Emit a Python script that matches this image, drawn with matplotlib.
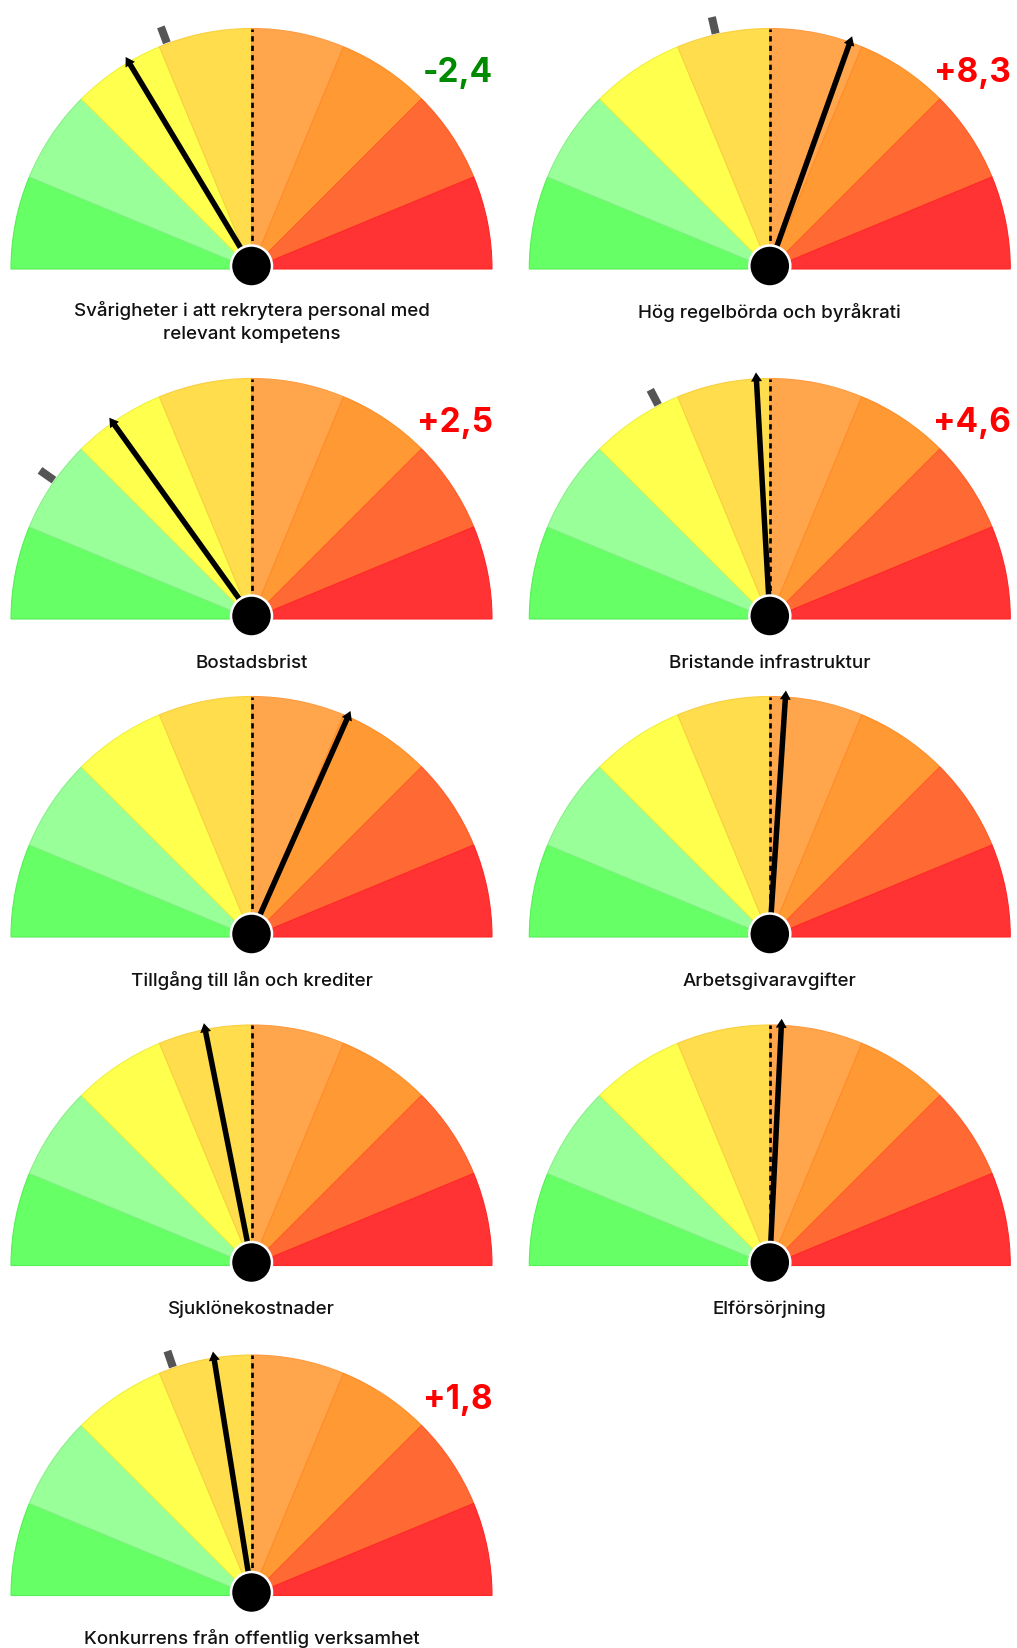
import matplotlib.pyplot as plt
from matplotlib.patches import Wedge, Circle
import numpy as np

W, H = 1017, 1648

# Gauge data (needle and previous marker on a -100..100 scale)
labels = [
    "Svårigheter i att rekrytera personal med\nrelevant kompetens",
    "Hög regelbörda och byråkrati",
    "Bostadsbrist",
    "Bristande infrastruktur",
    "Tillgång till lån och krediter",
    "Arbetsgivaravgifter",
    "Sjuklönekostnader",
    "Elförsörjning",
    "Konkurrens från offentlig verksamhet",
]
needle = [-34.5, 21.9, -39.6, -3.6, 26.6, 4.2, -12.5, 3.1, -10.1]
marker = [-22.8, -14.4, -61.0, -30.6, None, None, None, None, -21.1]
change = ["-2,4", "+8,3", "+2,5", "+4,6", None, None, None, None, "+1,8"]

zone_colors = ["#66ff66", "#99ff99", "#ffff4d", "#ffdd4d",
               "#ffa64d", "#ff9933", "#ff6933", "#ff3333"]
zone_edges = ["#55f055", "#88f088", "#f0f040", "#f8d040",
              "#ff9a40", "#ff8c28", "#ff5c28", "#ff2828"]

# layout (pixels)
col_x = [251.5, 769.8]
row_y = [269.0, 619.0, 937.0, 1265.5, 1595.5]
R = 240.5
LINE_PX = 21.5


def polar(cx, cy, value, r):
    phi = np.radians(90 - 0.9 * value)
    return cx + r * np.cos(phi), cy - r * np.sin(phi)


plt.rcParams["font.family"] = ["Inter", "DejaVu Sans"]
fig = plt.figure(figsize=(W / 100, H / 100), dpi=100)
ax = fig.add_axes([0, 0, 1, 1])
ax.set_xlim(0, W)
ax.set_ylim(H, 0)
ax.axis("off")

for i, label in enumerate(labels):
    cx = col_x[i % 2]
    cy = row_y[i // 2]
    hx, hy = cx, cy - 3

    n = len(zone_colors)
    step = 180 / n
    for k in range(n):
        ax.add_patch(Wedge((cx, cy), R, k * step - 180, (k + 1) * step - 180,
                           facecolor=zone_colors[k], edgecolor=zone_edges[k],
                           lw=0.8, zorder=1))

    ax.plot([cx, cx], [cy, cy - R], color="black", lw=1.9,
            ls=(0, (2.0, 1.6)), zorder=2)

    if marker[i] is not None:
        x0, y0 = polar(cx, cy, marker[i], R + 1)
        x1, y1 = polar(cx, cy, marker[i], R + 18)
        ax.plot([x0, x1], [y0, y1], color="#555555", lw=5.8,
                solid_capstyle="butt", zorder=2)

    tx, ty = polar(hx, hy, needle[i], 244)
    ax.arrow(hx, hy, tx - hx, ty - hy, width=5.5, head_width=11, head_length=9,
             length_includes_head=True, color="black", lw=0, zorder=3)

    ax.add_patch(Circle((hx, hy), 20.5, facecolor="black", edgecolor="white",
                        lw=1.8, zorder=4))

    # baseline alignment uses the last line, so shift multi-line labels down
    nlines = label.count("\n") + 1
    ax.text(cx, cy + 48.5 + (nlines - 1) * LINE_PX, label, ha="center",
            va="baseline", fontsize=13.5, fontweight="medium",
            linespacing=1.47, color="#111111")

    if change[i] is not None:
        color = "#008a00" if change[i].startswith("-") else "#ff0000"
        ax.text(cx + 241, cy - 187, change[i], ha="right", va="baseline",
                fontsize=24, fontweight="bold", color=color)

fig.savefig("out.png", dpi=100)
